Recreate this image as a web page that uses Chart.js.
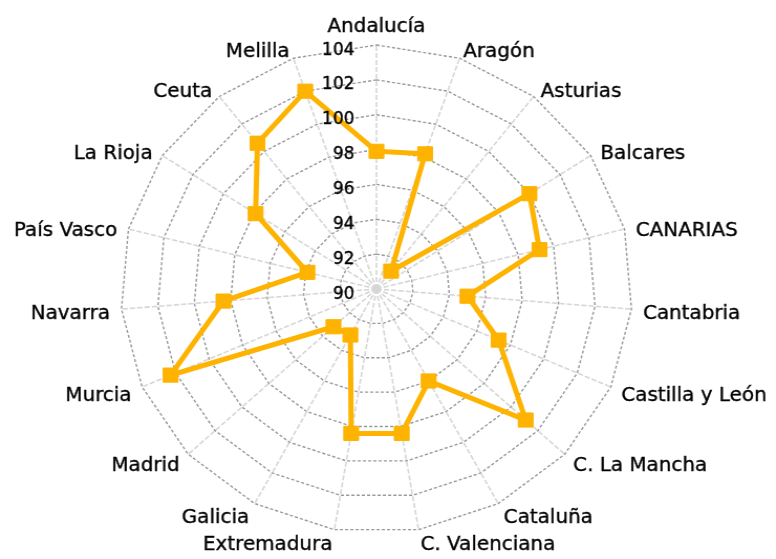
<!DOCTYPE html>
<html><head><meta charset="utf-8">
<script src="https://cdn.jsdelivr.net/npm/chart.js@4/dist/chart.umd.min.js"></script>
<style>
html,body{margin:0;padding:0;background:#fff;overflow:hidden;width:776px;height:559px;}
#wrap{width:740px;height:559px;transform:scaleX(1.0486);transform-origin:0 0;}
canvas{display:block;}
</style></head><body>
<div id="wrap"><canvas id="c" width="740" height="559"></canvas></div>
<script>
const categories = ['Andalucía','Aragón','Asturias','Balcares','CANARIAS','Cantabria','Castilla y León','C. La Mancha','Cataluña','C. Valenciana','Extremadura','Galicia','Madrid','Murcia','Navarra','País Vasco','La Rioja','Ceuta','Melilla'];
const values = [97.9, 98.2, 91.3, 100.0, 99.2, 95.0, 97.3, 101.1, 96.0, 98.4, 98.4, 93.0, 93.2, 102.3, 98.4, 93.9, 97.9, 100.6, 102.0];
const tickValues = [90, 92, 94, 96, 98, 100, 102, 104];
const tickLabels = ['90', '92', '94', '96', '98', '100', '102', '104'];

const labelPlugin = {
  id: 'customLabels',
  afterDatasetsDraw(chart) {
    const s = chart.scales.r;
    const ctx = chart.ctx;
    ctx.save();
    ctx.fillStyle = '#000';
    ctx.strokeStyle = '#000';
    ctx.lineWidth = 0.35;
    ctx.textBaseline = 'alphabetic';
    ctx.font = '18px "DejaVu Sans Condensed"';
    ctx.textAlign = 'right';
    tickValues.forEach((v, i) => {
      const y = s.yCenter - s.getDistanceFromCenterForValue(v);
      ctx.fillText(tickLabels[i], s.xCenter - 21, y + 9.5);
      ctx.strokeText(tickLabels[i], s.xCenter - 21, y + 9.5);
    });
    ctx.font = '19px "DejaVu Sans"';
    const R = s.drawingArea;
    categories.forEach((lab, i) => {
      const p = s.getPointPosition(i, R + 11);
      const dx = p.x - s.xCenter;
      let base;
      if (Math.abs(dx) < 3) { ctx.textAlign = 'center'; base = p.y - 2; }
      else { ctx.textAlign = dx > 0 ? 'left' : 'right'; base = p.y + 9.4; }
      ctx.fillText(lab, p.x, base);
      ctx.strokeText(lab, p.x, base);
    });
    ctx.restore();
  }
};

new Chart(document.getElementById('c'), {
  type: 'radar',
  data: {
    labels: categories,
    datasets: [{
      data: values,
      borderColor: '#FDB300',
      backgroundColor: '#FDB300',
      borderWidth: 5,
      fill: false,
      tension: 0,
      pointStyle: 'rect',
      pointRadius: 10,
      pointBorderWidth: 1,
      pointBackgroundColor: '#FDB300',
      pointBorderColor: '#FDB300'
    }]
  },
  options: {
    responsive: false,
    animation: false,
    devicePixelRatio: 1,
    layout: { padding: { left: 115, right: 137, top: 45, bottom: 26 } },
    plugins: { legend: { display: false }, tooltip: { enabled: false } },
    scales: {
      r: {
        min: 90, max: 104,
        ticks: { stepSize: 2, display: false },
        pointLabels: { display: false },
        grid: { color: '#999999', lineWidth: 1.4 },
        border: { dash: [3, 2] },
        angleLines: { color: '#d6d6d6', lineWidth: 1.6, borderDash: [5, 2] }
      }
    }
  },
  plugins: [labelPlugin]
});
</script>
</body></html>
